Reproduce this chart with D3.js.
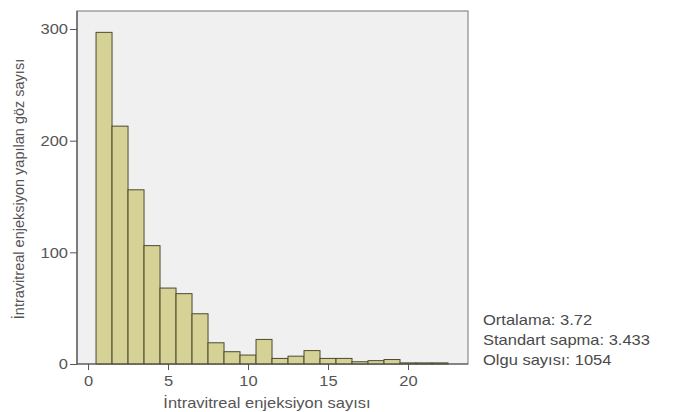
<!DOCTYPE html>
<html>
<head>
<meta charset="utf-8">
<script src="https://cdn.jsdelivr.net/npm/d3@7"></script>
<style>
body{margin:0;background:#fff;}
text{font-family:"Liberation Sans",Arial,sans-serif;}
</style>
</head>
<body>
<svg id="chart" width="674" height="412"></svg>
<script>
// histogram bins (centre value) and counts
var bins = [1,2,3,4,5,6,7,8,9,10,11,12,13,14,15,16,17,18,19,20,21,22];
var counts = [297,213,156,106,68,63,45,19,11,8,22,5,7,12,5,5,2,3,4,1,1,1];
var xTicks = [0,5,10,15,20];
var yTicks = [0,100,200,300];
var stats = ["Ortalama: 3.72","Standart sapma: 3.433","Olgu sayısı: 1054"];

var L=77, T=11, R=468, B=364;
var etir=1.1; // the source picture is a bit wider than tall
var svg = d3.select("#chart");

var x = d3.scaleLinear().domain([-0.69,23.75]).range([L,R]);
var y = d3.scaleLinear().domain([0,300]).range([B,29]);

function stretch(sel,f){
	sel.each(function(){
		var w=this.getComputedTextLength();
		d3.select(this).attr("textLength",w*f).attr("lengthAdjust","spacingAndGlyphs");
	});
}

// fond du graphique
svg.append("rect")
	.attr("x",L).attr("y",T)
	.attr("width",R-L).attr("height",B-T)
	.attr("fill","#f0f0f0")
	.attr("stroke","#8a8a8a")
	.attr("stroke-width",1.2);

// barres
svg.append("g").selectAll("rect")
	.data(bins)
	.enter().append("rect")
	.attr("x",function(d){return x(d-0.5);})
	.attr("width",function(d){return x(d+0.5)-x(d-0.5);})
	.attr("y",function(d,i){return y(counts[i]);})
	.attr("height",function(d,i){return B-y(counts[i]);})
	.attr("fill","#d6d295")
	.attr("stroke","#4b4a30")
	.attr("stroke-width",1);

// axes
var gx = svg.append("g").attr("transform","translate(0,"+B+")")
	.call(d3.axisBottom(x).tickValues(xTicks).tickSize(6).tickPadding(5));
var gy = svg.append("g").attr("transform","translate("+L+",0)")
	.call(d3.axisLeft(y).tickValues(yTicks).tickSize(7).tickPadding(2));

[gx,gy].forEach(function(g){
	g.select(".domain").attr("stroke","#555").attr("stroke-width",1.2);
	g.selectAll(".tick line").attr("stroke","#555");
	g.selectAll(".tick text").attr("fill","#555").attr("font-size",15)
		.attr("font-family","'Liberation Sans',Arial,sans-serif")
		.call(stretch,etir);
});
gx.select(".domain").attr("d","M"+L+",0H"+R);
gy.select(".domain").attr("d","M0,"+T+"V"+B);

// titres des axes
svg.append("text")
	.attr("x",267).attr("y",408)
	.attr("text-anchor","middle")
	.attr("font-size",15).attr("fill","#555")
	.text("İntravitreal enjeksiyon sayısı")
	.call(stretch,etir);

svg.append("text")
	.attr("transform","translate(24,189) rotate(-90)")
	.attr("text-anchor","middle")
	.attr("font-size",14.5).attr("fill","#555")
	.text("İntravitreal enjeksiyon yapılan göz sayısı");

// statistiques
svg.append("g").selectAll("text")
	.data(stats)
	.enter().append("text")
	.attr("x",483)
	.attr("y",function(d,i){return 325+i*20;})
	.attr("font-size",15).attr("fill","#4a4a4a")
	.text(function(d){return d;})
	.call(stretch,etir);
</script>
</body>
</html>
